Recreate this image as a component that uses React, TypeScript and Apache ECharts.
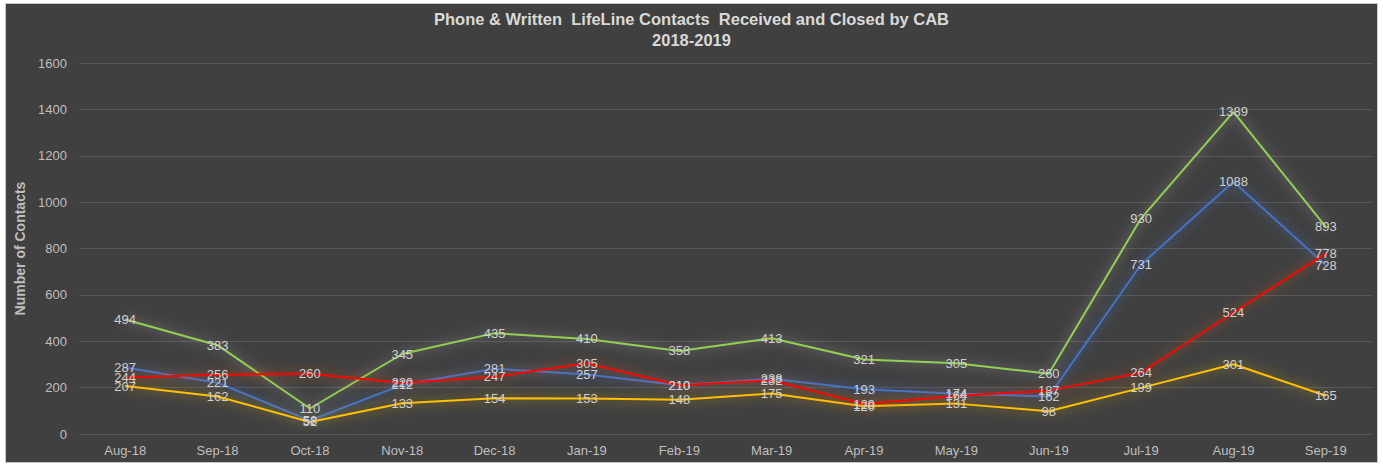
import React, { useEffect, useRef } from "react";
import * as echarts from "echarts";

const months = ["Aug-18", "Sep-18", "Oct-18", "Nov-18", "Dec-18", "Jan-19", "Feb-19", "Mar-19", "Apr-19", "May-19", "Jun-19", "Jul-19", "Aug-19", "Sep-19"];
const greenSeries = [494, 383, 110, 345, 435, 410, 358, 413, 321, 305, 260, 930, 1389, 893];
const blueSeries = [287, 221, 58, 212, 281, 257, 210, 238, 193, 174, 162, 731, 1088, 728];
const yellowSeries = [207, 162, 52, 133, 154, 153, 148, 175, 120, 131, 98, 199, 301, 165];
const redSeries = [244, 256, 260, 220, 247, 305, 210, 232, 129, 164, 187, 264, 524, 778];

const FONT = "'Liberation Sans', Arial, sans-serif";

function mk(name: string, data: number[], color: string, glow: string) {
  return {
    name,
    type: "line",
    data,
    symbol: "circle",
    symbolSize: 1,
    showSymbol: true,
    itemStyle: { color },
    lineStyle: { color, width: 2, shadowColor: glow, shadowBlur: 12 },
    label: {
      show: true,
      position: "inside",
      color: "#d0d0d0",
      fontSize: 13,
      fontFamily: FONT,
    },
    emphasis: { disabled: true },
  };
}

export default function App() {
  const ref = useRef<HTMLDivElement>(null);
  useEffect(() => {
    const chart = echarts.init(ref.current!, undefined, { renderer: "svg" });
    chart.setOption({
      animation: false,
      backgroundColor: "#ffffff",
      graphic: [
        {
          type: "rect",
          z: -10,
          silent: true,
          shape: { x: 5.5, y: 3.5, width: 1372, height: 459 },
          style: { fill: "#404040", stroke: "#c8c8c8", lineWidth: 1 },
        },
      ],
      title: {
        text: "Phone & Written  LifeLine Contacts  Received and Closed by CAB\n2018-2019",
        left: "center",
        top: 8,
        padding: 0,
        textStyle: {
          color: "#d9d9d9",
          fontSize: 16.5,
          fontWeight: "bold",
          fontFamily: FONT,
          lineHeight: 21,
        },
      },
      grid: { left: 79, right: 11, top: 63, bottom: 32, containLabel: false },
      xAxis: {
        type: "category",
        data: months,
        boundaryGap: true,
        axisLine: { show: true, lineStyle: { color: "#555555" } },
        axisTick: { show: false },
        axisLabel: { color: "#bfbfbf", fontSize: 13, fontFamily: FONT, margin: 10 },
      },
      yAxis: {
        type: "value",
        min: 0,
        max: 1600,
        interval: 200,
        name: "Number of Contacts",
        nameLocation: "middle",
        nameGap: 44,
        nameRotate: 90,
        nameTextStyle: { color: "#bfbfbf", fontSize: 14, fontWeight: "bold", fontFamily: FONT },
        axisLine: { show: false },
        axisTick: { show: false },
        axisLabel: {
          color: "#bfbfbf",
          fontSize: 13,
          fontFamily: FONT,
          margin: 12,
          formatter: (v: number) => String(v),
        },
        splitLine: { lineStyle: { color: "#575757", width: 1 } },
      },
      series: [
        mk("Green", greenSeries, "#92d050", "rgba(200,200,200,0.7)"),
        mk("Blue", blueSeries, "#4472c4", "rgba(68,114,196,0.95)"),
        mk("Yellow", yellowSeries, "#ffc000", "rgba(255,192,0,0.75)"),
        mk("Red", redSeries, "#ff0000", "rgba(255,100,0,0.7)"),
      ],
    });
    return () => chart.dispose();
  }, []);
  return (
    <div
      ref={ref}
      style={{ position: "absolute", left: 0, top: 0, width: 1383, height: 466 }}
    />
  );
}
